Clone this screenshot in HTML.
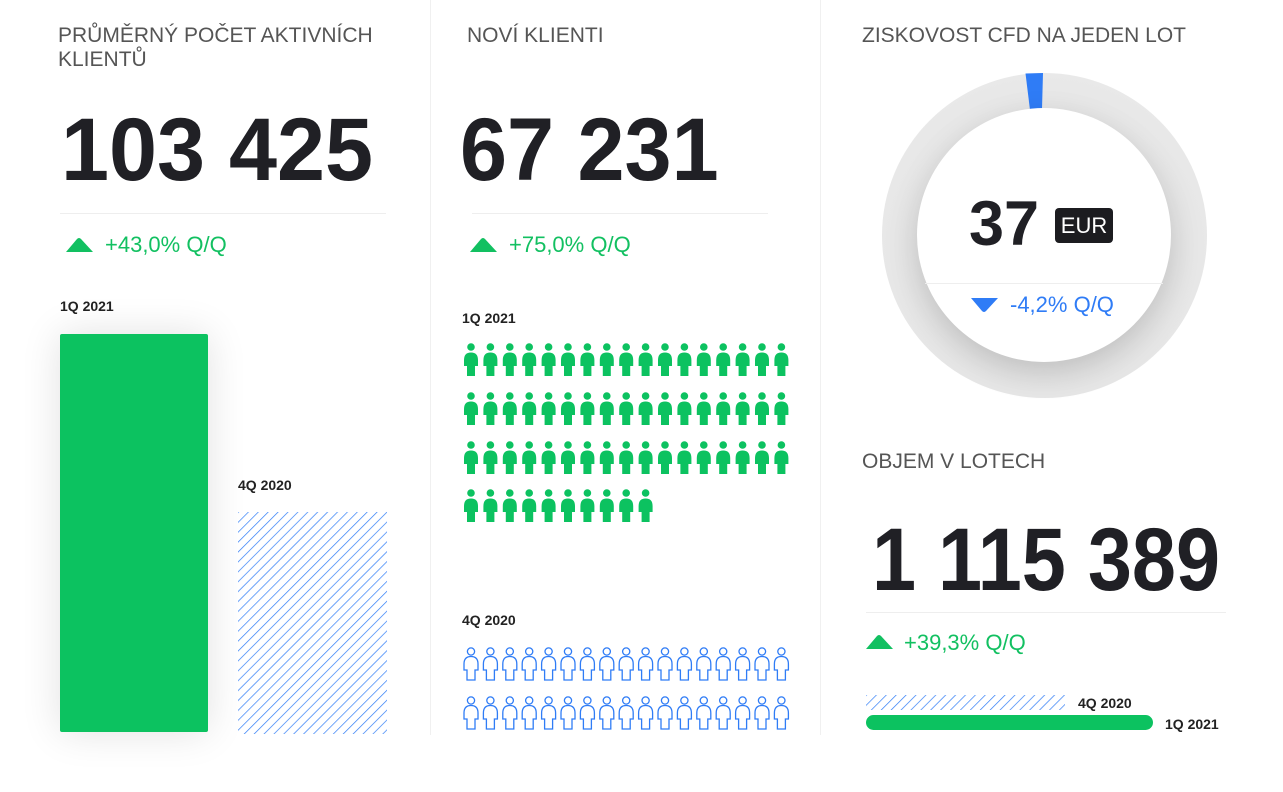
<!DOCTYPE html>
<html><head><meta charset="utf-8"><style>
body{margin:0;width:1283px;height:792px;background:#fff;font-family:"Liberation Sans",sans-serif;position:relative;overflow:hidden}
.a{position:absolute;white-space:nowrap}
.t{font-size:21px;color:#555;letter-spacing:0;line-height:24px}
.n{font-weight:bold;color:#202025;font-size:89px;line-height:89px;transform-origin:0 0}
.g{color:#12c061;font-size:22px}
.l{font-weight:bold;font-size:14px;color:#222}
.hr{position:absolute;height:1px;background:#eee}
</style></head><body>
<div class="a" style="left:430px;top:0;width:1px;height:735px;background:#f0f0f0"></div>
<div class="a" style="left:820px;top:0;width:1px;height:735px;background:#f0f0f0"></div>

<div class="a t" style="left:58px;top:24px">PRŮMĚRNÝ POČET AKTIVNÍCH<br>KLIENTŮ</div>
<div class="a n" style="left:61px;top:105px;transform:scaleX(0.97)">103 425</div>
<div class="hr" style="left:60px;top:213px;width:326px"></div>
<svg class="a" style="left:66px;top:237px" width="28" height="16"><path d="M0,15 L11,2 Q13,0 15,2 L27,15 Z" fill="#12c061"/></svg>
<div class="a g" style="left:105px;top:232px">+43,0% Q/Q</div>
<div class="a l" style="left:60px;top:298px">1Q 2021</div>
<div class="a" style="left:60px;top:334px;width:148px;height:398px;background:#0cc260;border-radius:2px;box-shadow:0 0 40px rgba(0,0,0,0.12)"></div>
<div class="a l" style="left:238px;top:477px">4Q 2020</div>
<svg class="a" style="left:238px;top:512px" width="149" height="222">
<defs><pattern id="h" width="7" height="7" patternUnits="userSpaceOnUse" patternTransform="rotate(45)"><line x1="0" y1="0" x2="0" y2="7" stroke="#2f7cf6" stroke-width="1.4"/></pattern></defs>
<rect width="149" height="222" fill="url(#h)"/></svg>

<div class="a t" style="left:467px;top:24px">NOVÍ KLIENTI</div>
<div class="a n" style="left:460px;top:105px;transform:scaleX(0.95)">67 231</div>
<div class="hr" style="left:472px;top:213px;width:296px"></div>
<svg class="a" style="left:470px;top:237px" width="28" height="16"><path d="M0,15 L11,2 Q13,0 15,2 L27,15 Z" fill="#12c061"/></svg>
<div class="a g" style="left:509px;top:232px">+75,0% Q/Q</div>
<div class="a l" style="left:462px;top:310px">1Q 2021</div>
<div class="a l" style="left:462px;top:612px">4Q 2020</div>
<svg id="ppl" class="a" style="left:0;top:0" width="820" height="792"></svg>

<div class="a t" style="left:862px;top:24px">ZISKOVOST CFD NA JEDEN LOT</div>
<div class="a" style="left:882px;top:73px;width:325px;height:325px;border-radius:50%;background:radial-gradient(circle at 50% 55%,#d4d4d4 0,#e6e6e6 60%,#efefef 100%)"></div>
<svg class="a" style="left:882px;top:73px" width="325" height="325"><path d="M143.5,0.5 L161,0 L160,36 L148,37 Z" fill="#2f7cf6"/></svg>
<div class="a" style="left:917px;top:108px;width:254px;height:254px;border-radius:50%;background:#fff;box-shadow:0 10px 30px rgba(0,0,0,0.15)"></div>
<div class="hr" style="left:925px;top:283px;width:238px"></div>
<div class="a" style="left:969px;top:188px;font-weight:bold;font-size:63px;color:#202025;transform:scaleX(1);transform-origin:0 0">37</div>
<div class="a" style="left:1055px;top:208px;width:58px;height:35px;background:#1c1c20;border-radius:4px;color:#fff;font-size:22px;line-height:35px;text-align:center">EUR</div>
<svg class="a" style="left:971px;top:297px" width="28" height="16"><path d="M0,1 L27,1 L15,14 Q13,16 11,14 Z" fill="#2f7cf6"/></svg>
<div class="a" style="left:1010px;top:292px;font-size:22px;color:#2f7cf6">-4,2% Q/Q</div>

<div class="a t" style="left:862px;top:450px">OBJEM V LOTECH</div>
<div class="a n" style="left:872px;top:515px;transform:scaleX(0.89)">1 115 389</div>
<div class="hr" style="left:866px;top:612px;width:360px"></div>
<svg class="a" style="left:866px;top:634px" width="28" height="16"><path d="M0,15 L11,2 Q13,0 15,2 L27,15 Z" fill="#12c061"/></svg>
<div class="a g" style="left:904px;top:630px">+39,3% Q/Q</div>
<svg class="a" style="left:866px;top:695px" width="199" height="15"><defs><pattern id="h2" width="7" height="7" patternUnits="userSpaceOnUse" patternTransform="rotate(45)"><line x1="0" y1="0" x2="0" y2="7" stroke="#2f7cf6" stroke-width="1.4"/></pattern></defs><rect width="199" height="15" fill="url(#h2)"/></svg>
<div class="a l" style="left:1078px;top:695px">4Q 2020</div>
<div class="a" style="left:866px;top:715px;width:287px;height:15px;border-radius:8px;background:#0cc260"></div>
<div class="a l" style="left:1165px;top:716px">1Q 2021</div>

<script>
var s='',body='M1,17 Q1,9.5 8,9.5 Q15,9.5 15,17 L15,23 L12,23 L12,33 L4,33 L4,23 L1,23 Z';
function ic(x,y,f){
 if(f) s+='<g transform="translate('+x+','+y+')"><circle cx="8" cy="4" r="3.8" fill="#0cc260"/><path d="'+body+'" fill="#0cc260"/></g>';
 else s+='<g transform="translate('+x+','+y+')" fill="none" stroke="#2f7cf6" stroke-width="1.3"><circle cx="8" cy="4.5" r="3.6"/><path d="'+body+'"/></g>';
}
var rows=[[343,17,1],[392,17,1],[441,17,1],[489,10,1],[647,17,0],[696,17,0]];
rows.forEach(function(r){for(var i=0;i<r[1];i++)ic(463+i*19.4,r[0],r[2]);});
document.getElementById('ppl').innerHTML=s;
</script>
</body></html>
